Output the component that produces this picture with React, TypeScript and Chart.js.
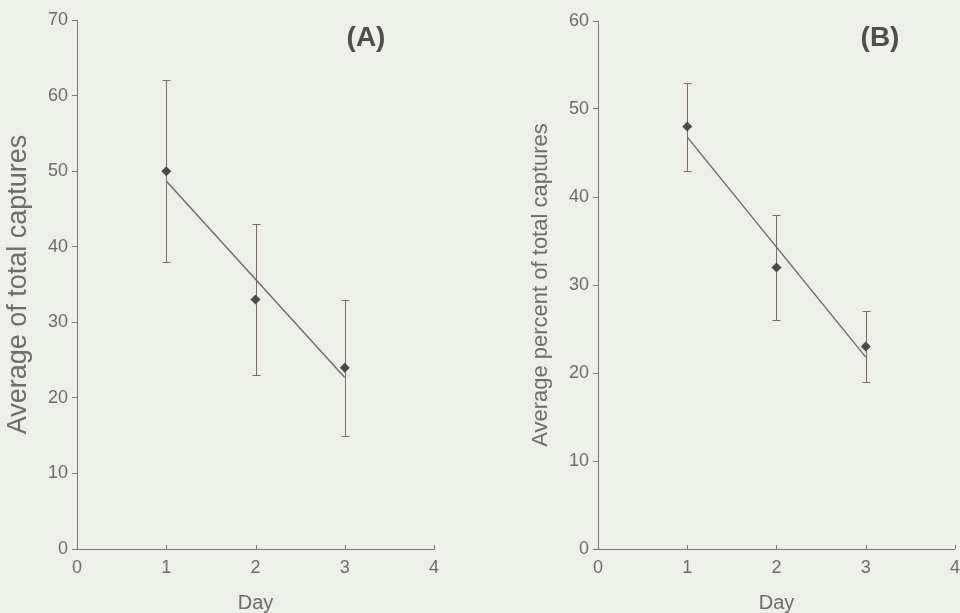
import React, { useEffect, useRef } from "react";
import { Chart, registerables } from "chart.js";

Chart.register(...registerables);

// ---- data ----
const days = [1, 2, 3];
const xTickValues = [0, 1, 2, 3, 4];

const aMeans = [50, 33, 24];
const aLower = [38, 23, 15];
const aUpper = [62, 43, 33];
const aTrend = [48.7, 35.7, 22.7];
const aYMax = 70;
const aYTitle = "Average of total captures";
const aTag = "(A)";

const bMeans = [48, 32, 23];
const bLower = [43, 26, 19];
const bUpper = [53, 38, 27];
const bTrend = [46.8, 34.3, 21.8];
const bYMax = 60;
const bYTitle = "Average percent of total captures";
const bTag = "(B)";

const xTitle = "Day";

// ---- styles ----
const FONT = "'Liberation Sans', Arial, sans-serif";
const TEXT = "#6c6c6c";
const AXIS = "#7c7474";
const ERR = "#836868";
const LINE = "#6a6a6a";
const POINT = "#4a4a4a";
const BG = "#edefe9";

const decorPlugin = {
  id: "decor",
  beforeDatasetsDraw(chart: any, _args: any, opts: any) {
    const { ctx } = chart;
    const x = chart.scales.x;
    const y = chart.scales.y;
    ctx.save();
    ctx.strokeStyle = opts.errColor;
    ctx.lineWidth = 1;
    opts.xs.forEach((d: number, i: number) => {
      const px = Math.round(x.getPixelForValue(d)) + 0.5;
      const pl = Math.round(y.getPixelForValue(opts.lower[i])) + 0.5;
      const pu = Math.round(y.getPixelForValue(opts.upper[i])) + 0.5;
      ctx.beginPath();
      ctx.moveTo(px, pl);
      ctx.lineTo(px, pu);
      ctx.moveTo(px - 4, pl);
      ctx.lineTo(px + 4, pl);
      ctx.moveTo(px - 4, pu);
      ctx.lineTo(px + 4, pu);
      ctx.stroke();
    });
    ctx.restore();
  },
  afterDraw(chart: any, _args: any, opts: any) {
    const { ctx } = chart;
    const x = chart.scales.x;
    const bottom = chart.chartArea.bottom;
    ctx.save();
    ctx.strokeStyle = opts.axisColor;
    ctx.lineWidth = 1;
    x.ticks.forEach((t: any) => {
      const px = Math.round(x.getPixelForValue(t.value)) + 0.5;
      ctx.beginPath();
      ctx.moveTo(px, bottom);
      ctx.lineTo(px, bottom - 4);
      ctx.stroke();
    });
    ctx.fillStyle = opts.tagColor;
    ctx.font = `bold ${opts.tagSize}px ${FONT}`;
    ctx.textAlign = "center";
    ctx.textBaseline = "middle";
    ctx.fillText(opts.tag, opts.tagX, opts.tagY);
    ctx.restore();
  },
};

type PanelProps = {
  left: number;
  canvasWidth: number;
  means: number[];
  lower: number[];
  upper: number[];
  trend: number[];
  yMax: number;
  yTitle: string;
  yTitleSize: number;
  yTitlePad: number;
  tag: string;
  tagX: number;
  yWidth: number;
  padRight: number;
  padTop: number;
};

function Panel(p: PanelProps) {
  const ref = useRef<HTMLCanvasElement | null>(null);
  useEffect(() => {
    if (!ref.current) return;
    const chart = new Chart(ref.current, {
      type: "scatter",
      data: {
        datasets: [
          {
            label: "trend",
            data: days.map((d, i) => ({ x: d, y: p.trend[i] })),
            showLine: true,
            borderColor: LINE,
            borderWidth: 1.4,
            pointRadius: 0,
            fill: false,
          },
          {
            label: "mean",
            data: days.map((d, i) => ({ x: d, y: p.means[i] })),
            pointStyle: "rectRot",
            pointRadius: 5,
            backgroundColor: POINT,
            borderColor: POINT,
            borderWidth: 0,
            showLine: false,
          },
        ],
      },
      options: {
        responsive: false,
        animation: false,
        layout: { padding: { left: 0, right: p.padRight, top: p.padTop, bottom: 0 } },
        plugins: {
          legend: { display: false },
          tooltip: { enabled: false },
          decor: {
            xs: days,
            lower: p.lower,
            upper: p.upper,
            errColor: ERR,
            axisColor: AXIS,
            tag: p.tag,
            tagX: p.tagX,
            tagY: 38,
            tagSize: 28,
            tagColor: "#4e4e4e",
          },
        } as any,
        scales: {
          x: {
            type: "linear",
            min: 0,
            max: 4,
            afterBuildTicks: (s: any) => {
              s.ticks = xTickValues.map((v) => ({ value: v }));
            },
            afterFit: (s: any) => {
              s.height = 64;
            },
            grid: { display: true, drawOnChartArea: false, drawTicks: false, tickLength: 0, color: AXIS },
            border: { display: true, color: AXIS, width: 1 },
            ticks: { color: TEXT, font: { family: FONT, size: 18 }, padding: 8, maxRotation: 0 },
            title: {
              display: true,
              text: xTitle,
              color: TEXT,
              font: { family: FONT, size: 20, lineHeight: 1 },
              padding: 0,
            },
          },
          y: {
            type: "linear",
            min: 0,
            max: p.yMax,
            ticks: { stepSize: 10, color: TEXT, font: { family: FONT, size: 18 }, padding: 4 },
            afterFit: (s: any) => {
              s.width = p.yWidth;
            },
            grid: { display: true, drawOnChartArea: false, drawTicks: true, tickLength: 5, color: AXIS },
            border: { display: true, color: AXIS, width: 1 },
            title: {
              display: true,
              text: p.yTitle,
              color: TEXT,
              font: { family: FONT, size: p.yTitleSize, lineHeight: 1.2 },
              padding: { top: p.yTitlePad, bottom: 0 },
            },
          },
        },
      },
      plugins: [decorPlugin],
    });
    return () => chart.destroy();
  }, []);
  return (
    <canvas
      ref={ref}
      width={p.canvasWidth}
      height={613}
      style={{ position: "absolute", left: p.left, top: 0, width: p.canvasWidth, height: 613 }}
    />
  );
}

export default function App() {
  return (
    <div style={{ position: "fixed", left: 0, top: 0, width: 960, height: 613, background: BG, overflow: "hidden" }}>
      <Panel
        left={0}
        canvasWidth={480}
        means={aMeans}
        lower={aLower}
        upper={aUpper}
        trend={aTrend}
        yMax={aYMax}
        yTitle={aYTitle}
        yTitleSize={27}
        yTitlePad={2}
        tag={aTag}
        tagX={366}
        yWidth={77}
        padRight={46}
        padTop={20}
      />
      <Panel
        left={480}
        canvasWidth={488}
        means={bMeans}
        lower={bLower}
        upper={bUpper}
        trend={bTrend}
        yMax={bYMax}
        yTitle={bYTitle}
        yTitleSize={22}
        yTitlePad={48}
        tag={bTag}
        tagX={400}
        yWidth={118}
        padRight={6}
        padTop={21}
      />
    </div>
  );
}
